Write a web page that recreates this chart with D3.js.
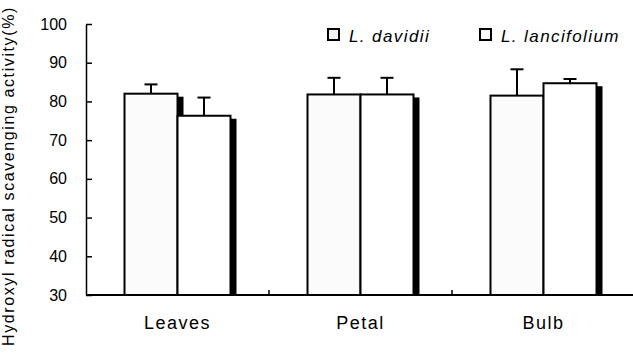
<!DOCTYPE html>
<html>
<head>
<meta charset="utf-8">
<script src="https://cdn.jsdelivr.net/npm/d3@7"></script>
<style>
  html, body { margin: 0; padding: 0; background: #fff; }
  svg { display: block; }
  text { font-family: "Liberation Sans", Arial, Helvetica, sans-serif; fill: #000; }
</style>
</head>
<body>
<svg id="chart" width="633" height="355"></svg>
<script>
// ---- data ----
const categories = ["Leaves", "Petal", "Bulb"];
const seriesNames = ["L. davidii", "L. lancifolium"];
const davidii = [82.0, 81.8, 81.5];
const lancifolium = [76.3, 81.8, 84.7];
const davidiiErr = [2.4, 4.3, 6.8];
const lancifoliumErr = [4.7, 4.3, 1.1];
const yTicks = [30, 40, 50, 60, 70, 80, 90, 100];
const yTitle = "Hydroxyl radical scavenging activity(%)";

const seriesValues = [davidii, lancifolium];
const seriesErrors = [davidiiErr, lancifoliumErr];

(function () {
  // ---- layout ----
  const svg = d3.select("#chart");
  const mLeft = 86, mRight = 635, mTop = 24, mBottom = 295;
  const barW = 53;

  const x = d3.scaleBand().domain(categories).range([mLeft, mRight]).padding(0);
  const xs = d3.scaleBand().domain(seriesNames).range([-barW, barW]).padding(0);
  const y = d3.scaleLinear().domain([30, 100]).range([mBottom, mTop]);

  const rows = [];
  categories.forEach((c, i) => {
    seriesNames.forEach((s, j) => {
      rows.push({ cat: c, ser: s, j, v: seriesValues[j][i], e: seriesErrors[j][i] });
    });
  });
  const barX = d => x(d.cat) + x.bandwidth() / 2 + xs(d.ser);

  // shadows
  svg.append("g").selectAll("rect").data(rows).join("rect")
    .attr("x", d => barX(d) + xs.bandwidth())
    .attr("y", d => y(d.v) + 3)
    .attr("width", 6)
    .attr("height", d => mBottom - y(d.v) - 3)
    .attr("fill", "#000");

  // bars
  svg.append("g").selectAll("rect").data(rows).join("rect")
    .attr("x", d => barX(d))
    .attr("y", d => y(d.v))
    .attr("width", xs.bandwidth())
    .attr("height", d => mBottom - y(d.v))
    .attr("fill", d => d.j === 0 ? "#fbfbfb" : "#fff")
    .attr("stroke", "#000")
    .attr("stroke-width", 2);

  // error bars (upper only)
  const eg = svg.append("g").attr("stroke", "#000").attr("stroke-width", 2);
  eg.selectAll("line.v").data(rows).join("line").attr("class", "v")
    .attr("x1", d => barX(d) + xs.bandwidth() / 2)
    .attr("x2", d => barX(d) + xs.bandwidth() / 2)
    .attr("y1", d => y(d.v))
    .attr("y2", d => y(d.v + d.e));
  eg.selectAll("line.c").data(rows).join("line").attr("class", "c")
    .attr("x1", d => barX(d) + xs.bandwidth() / 2 - 6.5)
    .attr("x2", d => barX(d) + xs.bandwidth() / 2 + 6.5)
    .attr("y1", d => y(d.v + d.e))
    .attr("y2", d => y(d.v + d.e));

  // y axis
  const yAxis = svg.append("g").attr("transform", `translate(${mLeft},0)`)
    .call(d3.axisLeft(y).tickValues(yTicks).tickSize(-6).tickSizeOuter(0).tickPadding(19));
  yAxis.select(".domain").attr("stroke", "#000").attr("stroke-width", 1.5);
  yAxis.selectAll(".tick line").attr("stroke", "#000").attr("stroke-width", 1.5);
  yAxis.selectAll(".tick text")
    .attr("font-family", "Liberation Sans, Arial, sans-serif")
    .attr("font-size", 16).attr("fill", "#000");

  // x axis
  const xAxis = svg.append("g").attr("transform", `translate(0,${mBottom})`)
    .call(d3.axisBottom(x).tickSize(0).tickPadding(21));
  xAxis.select(".domain").remove();
  xAxis.selectAll(".tick text")
    .attr("font-family", "Liberation Sans, Arial, sans-serif")
    .attr("font-size", 18).attr("letter-spacing", "1.5px").attr("fill", "#000");

  // baseline and category separators
  svg.append("line")
    .attr("x1", mLeft).attr("x2", 633).attr("y1", mBottom).attr("y2", mBottom)
    .attr("stroke", "#000").attr("stroke-width", 2);
  svg.append("g").selectAll("line").data(categories.slice(1)).join("line")
    .attr("x1", d => x(d)).attr("x2", d => x(d))
    .attr("y1", mBottom).attr("y2", mBottom - 5)
    .attr("stroke", "#000").attr("stroke-width", 1.5);

  // y title
  svg.append("text")
    .attr("transform", `translate(14,176) rotate(-90)`)
    .attr("text-anchor", "middle")
    .attr("font-size", 16)
    .attr("letter-spacing", "1.6px")
    .text(yTitle);

  // legend
  const legendX = [327, 479];
  const lg = svg.append("g").selectAll("g").data(seriesNames).join("g")
    .attr("transform", (d, i) => `translate(${legendX[i]},28)`);
  lg.append("rect").attr("x", 1).attr("y", 1).attr("width", 11).attr("height", 11)
    .attr("fill", (d, i) => i === 0 ? "#f4f4f4" : "#fff")
    .attr("stroke", "#000").attr("stroke-width", 2);
  lg.append("text").attr("x", 22).attr("y", 13.5)
    .attr("font-size", 17).attr("font-style", "italic").attr("letter-spacing", "1.4px")
    .text(d => d);
})();
</script>
</body>
</html>
